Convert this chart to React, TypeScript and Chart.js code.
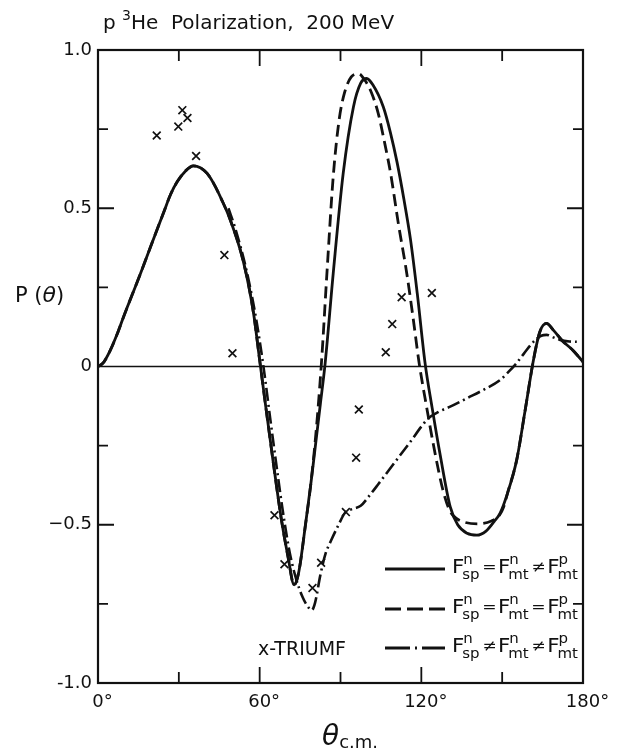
import React, { useEffect, useRef } from 'react';
import { Chart, registerables } from 'chart.js';

Chart.register(...registerables);

const FONT = '"DejaVu Sans", "Liberation Sans", sans-serif';
const INK = '#111111';

// Angles (degrees, c.m.) and polarization P(θ) for the three model calculations
const solidDeg = [0, 2, 4.5, 7, 9.4, 15.6, 21.8, 24.5, 27, 29.5, 32.5, 35.4, 38, 40.5, 42.8, 46, 49, 54, 57.7, 60, 62, 65, 68, 70.5, 72.8, 74.5, 77, 79, 80, 82.5, 84.3, 87.3, 91, 94.8, 97.5, 99.7, 102, 105.9, 108.5, 111, 113.5, 116, 118.5, 121.4, 124, 127, 130.7, 133.5, 137, 140.6, 144, 147, 149.2, 152, 155.4, 158.5, 161.6, 164, 166.5, 169, 172.5, 176.4, 180];
const solidP = [0, 0.012, 0.05, 0.1, 0.155, 0.29, 0.43, 0.49, 0.545, 0.585, 0.618, 0.634, 0.628, 0.61, 0.58, 0.525, 0.465, 0.33, 0.17, 0.02, -0.11, -0.3, -0.48, -0.6, -0.69, -0.65, -0.5, -0.37, -0.3, -0.12, 0.01, 0.294, 0.61, 0.82, 0.895, 0.91, 0.89, 0.82, 0.74, 0.645, 0.53, 0.4, 0.23, 0.01, -0.13, -0.28, -0.443, -0.5, -0.527, -0.533, -0.52, -0.49, -0.464, -0.4, -0.295, -0.14, 0.02, 0.11, 0.136, 0.115, 0.08, 0.05, 0.015];

const dashedDeg = [0, 2, 4.5, 7, 9.4, 15.6, 21.8, 24.5, 27, 29.5, 32.5, 35.4, 38, 40.5, 42.8, 46, 49, 54, 57.7, 60, 62, 65, 68, 70.5, 72.8, 74.5, 77, 79, 81, 83, 85, 87.3, 89.5, 91.5, 94, 96.7, 99, 101.5, 104, 106.3, 108.6, 111.5, 114.6, 117, 119.2, 122, 125, 128, 130.5, 133, 136, 141, 146, 149, 150.5, 152, 155.4, 158.5, 161.6, 164, 166.5, 169, 172.5, 176.4, 180];
const dashedP = [0, 0.012, 0.05, 0.1, 0.155, 0.29, 0.43, 0.49, 0.545, 0.585, 0.618, 0.634, 0.628, 0.61, 0.58, 0.525, 0.465, 0.33, 0.17, 0.02, -0.11, -0.3, -0.48, -0.6, -0.69, -0.65, -0.5, -0.37, -0.2, 0.02, 0.3, 0.6, 0.78, 0.865, 0.915, 0.925, 0.905, 0.865, 0.8, 0.71, 0.61, 0.45, 0.294, 0.15, 0.01, -0.13, -0.27, -0.39, -0.455, -0.48, -0.492, -0.497, -0.488, -0.47, -0.445, -0.4, -0.295, -0.14, 0.02, 0.11, 0.136, 0.115, 0.08, 0.05, 0.015];

const dashDotDeg = [48.4, 51, 55.2, 58.7, 61.4, 64, 66.5, 69, 71.2, 73.5, 76, 78, 79.3, 80.6, 82.5, 84.5, 86.5, 89, 91.7, 94.5, 97.5, 101, 104, 108, 112, 116, 120, 122.6, 126.5, 130.7, 137, 143, 149.2, 152, 154.8, 158, 161.6, 164.5, 166.5, 169, 171.5, 175, 177.7];
const dashDotP = [0.5, 0.435, 0.3, 0.15, 0, -0.17, -0.33, -0.48, -0.59, -0.67, -0.73, -0.76, -0.77, -0.745, -0.66, -0.59, -0.55, -0.505, -0.462, -0.45, -0.44, -0.405, -0.372, -0.327, -0.282, -0.237, -0.19, -0.164, -0.143, -0.127, -0.1, -0.074, -0.043, -0.02, 0.005, 0.04, 0.078, 0.097, 0.1, 0.092, 0.084, 0.079, 0.078];

// TRIUMF measurements
const triumfDeg = [21.8, 29.8, 31.3, 33.2, 36.4, 46.9, 49.9, 65.5, 69.2, 79.6, 82.8, 92, 95.8, 96.8, 106.8, 109.2, 112.7, 123.9];
const triumfP = [0.73, 0.758, 0.81, 0.785, 0.665, 0.352, 0.042, -0.47, -0.625, -0.7, -0.62, -0.46, -0.288, -0.136, 0.045, 0.134, 0.219, 0.232];

// Axis ticks
const xTickStep = 30;
const xLabelEvery = 60;
const yTickStep = 0.25;
const yLabels: Record<string, string> = { '1': '1.0', '0.5': '0.5', '0': '0', '-0.5': '\u22120.5', '-1': '-1.0' };

const legendRows = [
  { dash: [] as number[], ops: ['=', '\u2260'] },
  { dash: [16, 6], ops: ['=', '='] },
  { dash: [25, 5, 2, 5], ops: ['\u2260', '\u2260'] },
];
const legendTerms = [['sp', 'n'], ['mt', 'n'], ['mt', 'p']];

const toPoints = (xs: number[], ys: number[]) => xs.map((x, i) => ({ x, y: ys[i] }));

type Run = { text: string; size: number; dy?: number; italic?: boolean };

function drawRuns(ctx: CanvasRenderingContext2D, x: number, y: number, runs: Run[]) {
  let cx = x;
  for (const r of runs) {
    ctx.font = `${r.italic ? 'italic ' : ''}${r.size}px ${FONT}`;
    ctx.fillText(r.text, cx, y + (r.dy || 0));
    cx += ctx.measureText(r.text).width;
  }
  return cx;
}

function drawFormula(ctx: CanvasRenderingContext2D, x0: number, base: number, ops: string[], width: number) {
  type Piece = { kind: 'term' | 'op'; a: string; b?: string; w: number };
  const pieces: Piece[] = [];
  legendTerms.forEach((t, i) => {
    ctx.font = `20px ${FONT}`;
    const wF = ctx.measureText('F').width;
    ctx.font = `14px ${FONT}`;
    const wS = Math.max(ctx.measureText(t[0]).width, ctx.measureText(t[1]).width);
    pieces.push({ kind: 'term', a: t[0], b: t[1], w: wF + wS - 1 });
    if (i < ops.length) {
      ctx.font = `16px ${FONT}`;
      pieces.push({ kind: 'op', a: ops[i], w: ctx.measureText(ops[i]).width + 3 });
    }
  });
  const total = pieces.reduce((s, p) => s + p.w, 0);
  ctx.save();
  ctx.translate(x0, 0);
  ctx.scale(width / total, 1);
  let cx = 0;
  for (const p of pieces) {
    if (p.kind === 'term') {
      ctx.font = `20px ${FONT}`;
      ctx.fillText('F', cx, base);
      const wF = ctx.measureText('F').width;
      ctx.font = `14px ${FONT}`;
      ctx.fillText(p.a, cx + wF - 2, base + 6);
      ctx.fillText(p.b as string, cx + wF - 1, base - 9);
    } else {
      ctx.font = `16px ${FONT}`;
      ctx.fillText(p.a, cx + 1.5, base - 1);
    }
    cx += p.w;
  }
  ctx.restore();
}

const decorations = {
  id: 'decorations',
  beforeDraw(chart: any) {
    const { ctx, width, height } = chart;
    ctx.save();
    ctx.fillStyle = '#ffffff';
    ctx.fillRect(0, 0, width, height);
    ctx.restore();
  },
  beforeDatasetsDraw(chart: any) {
    const { ctx, chartArea } = chart;
    const y0 = chart.scales.y.getPixelForValue(0);
    ctx.save();
    ctx.strokeStyle = INK;
    ctx.lineWidth = 1.5;
    ctx.beginPath();
    ctx.moveTo(chartArea.left, y0);
    ctx.lineTo(chartArea.right, y0);
    ctx.stroke();
    ctx.restore();
  },
  afterDraw(chart: any) {
    const { ctx, chartArea: a } = chart;
    const xs = chart.scales.x;
    const ys = chart.scales.y;
    ctx.save();
    ctx.strokeStyle = INK;
    ctx.fillStyle = INK;
    ctx.lineWidth = 2.2;
    ctx.strokeRect(a.left, a.top, a.right - a.left, a.bottom - a.top);

    // inward ticks
    ctx.lineWidth = 1.8;
    ctx.beginPath();
    for (let v = xTickStep; v < 180; v += xTickStep) {
      const px = xs.getPixelForValue(v);
      const len = v % xLabelEvery === 0 ? 16 : 11;
      ctx.moveTo(px, a.bottom);
      ctx.lineTo(px, a.bottom - len);
      ctx.moveTo(px, a.top);
      ctx.lineTo(px, a.top + len);
    }
    for (let v = -1 + yTickStep; v < 1 - 1e-9; v += yTickStep) {
      if (Math.abs(v) < 1e-9) continue;
      const py = ys.getPixelForValue(v);
      const major = Math.abs(v * 2 - Math.round(v * 2)) < 1e-6;
      const len = major ? 16 : 10;
      ctx.moveTo(a.left, py);
      ctx.lineTo(a.left + len, py);
      ctx.moveTo(a.right, py);
      ctx.lineTo(a.right - len, py);
    }
    ctx.stroke();

    ctx.textBaseline = 'alphabetic';
    ctx.textAlign = 'left';
    // heading
    drawRuns(ctx, 103, 29, [
      { text: 'p ', size: 20 },
      { text: '3', size: 14, dy: -9 },
      { text: 'He  Polarization,  200 MeV', size: 20 },
    ]);
    // axis titles
    drawRuns(ctx, 15, 302, [
      { text: 'P (', size: 21 },
      { text: '\u03b8', size: 22, italic: true },
      { text: ')', size: 21 },
    ]);
    drawRuns(ctx, 322, 745, [
      { text: '\u03b8', size: 28, italic: true },
      { text: 'c.m.', size: 18, dy: 3 },
    ]);

    // key
    const rowY = [569, 609, 648];
    legendRows.forEach((row, i) => {
      ctx.save();
      ctx.lineWidth = 2.8;
      ctx.setLineDash(row.dash);
      ctx.beginPath();
      ctx.moveTo(385, rowY[i]);
      ctx.lineTo(445, rowY[i]);
      ctx.stroke();
      ctx.restore();
      drawFormula(ctx, 452, rowY[i] + 4, row.ops, 127);
    });
    ctx.font = `19px ${FONT}`;
    ctx.fillText('x-TRIUMF', 258, 655);
    ctx.restore();
  },
};

export default function App() {
  const canvasRef = useRef<HTMLCanvasElement | null>(null);

  useEffect(() => {
    if (!canvasRef.current) return;
    const lineBase = {
      type: 'line' as const,
      borderColor: INK,
      borderWidth: 2.8,
      pointRadius: 0,
      fill: false,
      cubicInterpolationMode: 'monotone' as const,
      borderCapStyle: 'butt' as const,
    };
    const chart = new Chart(canvasRef.current, {
      type: 'line',
      data: {
        datasets: [
          { ...lineBase, label: 'Fsp=Fmt≠Fmt', data: toPoints(solidDeg, solidP) },
          { ...lineBase, label: 'Fsp=Fmt=Fmt', data: toPoints(dashedDeg, dashedP), borderDash: [12, 6] },
          { ...lineBase, label: 'Fsp≠Fmt≠Fmt', data: toPoints(dashDotDeg, dashDotP), borderWidth: 2.6, borderDash: [13, 4, 2, 4] },
          {
            type: 'scatter',
            label: 'TRIUMF',
            data: toPoints(triumfDeg, triumfP),
            pointStyle: 'crossRot',
            pointRadius: 5.5,
            borderColor: INK,
            backgroundColor: INK,
            borderWidth: 1.7,
            showLine: false,
          } as any,
        ],
      },
      options: {
        responsive: false,
        animation: false,
        devicePixelRatio: 1,
        layout: { padding: { left: 0, top: 50, right: 39, bottom: 0 } },
        plugins: { legend: { display: false }, tooltip: { enabled: false } },
        scales: {
          x: {
            type: 'linear',
            min: 0,
            max: 180,
            grid: { display: false, drawTicks: false },
            border: { display: false },
            ticks: {
              stepSize: xTickStep,
              autoSkip: false,
              maxRotation: 0,
              padding: 9,
              labelOffset: 4.5,
              color: INK,
              font: { family: FONT, size: 18 },
              callback: (v: any) => (Number(v) % xLabelEvery === 0 ? `${v}\u00b0` : ''),
            },
            afterFit: (s: any) => {
              s.height = 67;
              s.paddingLeft = 0;
              s.paddingRight = 0;
            },
          },
          y: {
            type: 'linear',
            min: -1,
            max: 1,
            grid: { display: false, drawTicks: false },
            border: { display: false },
            ticks: {
              stepSize: yTickStep,
              autoSkip: false,
              padding: 6,
              color: INK,
              font: { family: FONT, size: 18 },
              callback: (v: any) => yLabels[String(Math.round(Number(v) * 100) / 100)] ?? '',
            },
            afterFit: (s: any) => {
              s.width = 98;
              s.paddingTop = 0;
              s.paddingBottom = 0;
            },
          },
        },
      },
      plugins: [decorations],
    });
    return () => chart.destroy();
  }, []);

  return (
    <div style={{ position: 'absolute', left: 0, top: 0, width: 622, height: 750, background: '#fff' }}>
      <canvas ref={canvasRef} width={622} height={750} style={{ display: 'block' }} />
    </div>
  );
}
